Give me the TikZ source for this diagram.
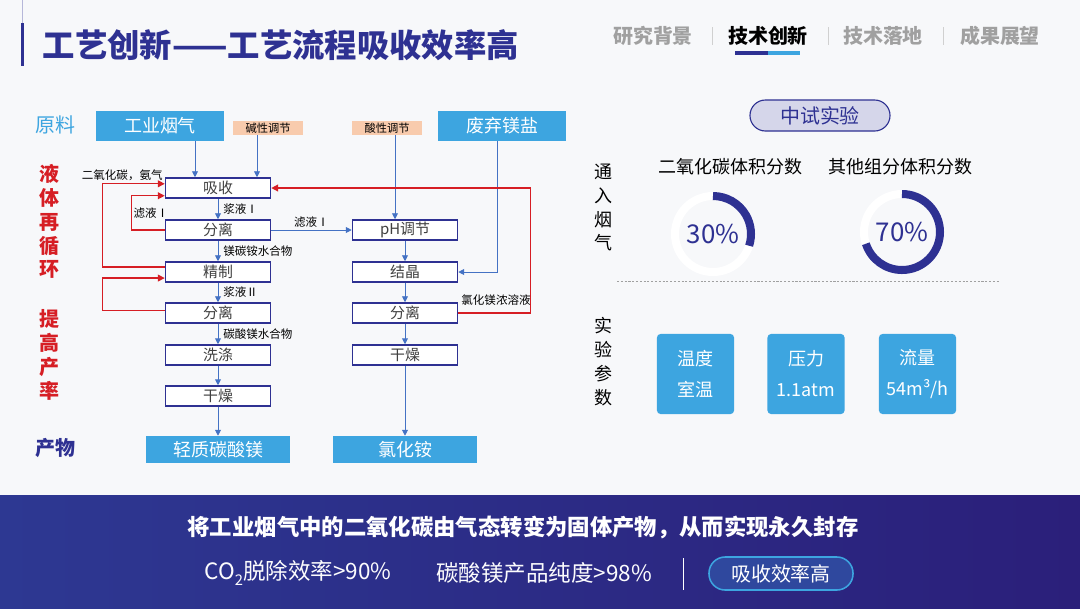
\documentclass[tikz,border=0pt]{standalone}
\usepackage{fontspec}
\setmainfont{Noto Sans CJK SC}
\usetikzlibrary{positioning,arrows.meta,calc}
\definecolor{cbg}{RGB}{247,248,250}
\definecolor{cnavy}{RGB}{46,49,146}
\definecolor{csky}{RGB}{61,165,224}
\definecolor{cpeach}{RGB}{248,203,173}
\definecolor{cflow}{RGB}{68,114,196}
\definecolor{cred}{RGB}{214,30,36}
\definecolor{cgray}{RGB}{160,160,160}
\definecolor{ctext}{RGB}{64,64,64}
\definecolor{cpill}{RGB}{213,214,234}
\definecolor{cbandl}{RGB}{45,56,146}
\definecolor{cbandr}{RGB}{43,31,122}
\tikzset{
  proc/.style={draw=cnavy, line width=1.1pt, fill=white, minimum width=2.625cm,
               minimum height=0.5cm, inner sep=0pt, text=ctext,
               font=\fontsize{10.6pt}{12pt}\selectfont},
  feed/.style={fill=csky, text=white, minimum width=3.2cm, minimum height=0.75cm,
               inner sep=0pt, font=\fontsize{12.8pt}{14pt}\selectfont},
  prod/.style={fill=csky, text=white, minimum width=3.6cm, minimum height=0.675cm,
               inner sep=0pt, font=\fontsize{12.8pt}{14pt}\selectfont},
  adj/.style={fill=cpeach, text=black, minimum width=1.75cm, minimum height=0.35cm,
              inner sep=0pt, font=\fontsize{8pt}{9pt}\selectfont},
  lab/.style={font=\fontsize{8.2pt}{10pt}\selectfont, text=black, inner sep=1.5pt},
  flow/.style={-{Triangle[length=4.2pt,width=4.2pt]}, draw=cflow, line width=0.6pt},
  loop/.style={-{Triangle[length=4.8pt,width=4.8pt]}, draw=cred, line width=0.9pt},
  vert/.style={align=center, font=\fontsize{14.2pt}{17pt}\selectfont\bfseries, text=cred},
  param/.style={fill=csky, rounded corners=2.5pt, minimum width=1.925cm, minimum height=2cm,
                inner sep=0pt, text=white, align=center, font=\fontsize{12.8pt}{22pt}\selectfont},
  ring/.style={draw=cnavy, line width=5.7pt},
}
\begin{document}
\begin{tikzpicture}[x=0.025cm, y=-0.025cm]
% page, frame of the slide and the dark band at the foot
\fill[cbg] (0,0) rectangle (1080,608);
\useasboundingbox (0,0) rectangle (1080,608);
\shade[left color=cbandl, right color=cbandr] (0,495) rectangle (1080,608);

% title with its side bar
\draw[cnavy!35, line width=0.6pt] (22,0) -- (22,23);
\fill[cnavy] (20.5,23) rectangle (24,66);
\node[anchor=west, text=cnavy, font=\fontsize{23pt}{26pt}\selectfont\bfseries] (title) at (38,45)
  {工艺创新——工艺流程吸收效率高};

% section tabs
\node[text=cgray, font=\fontsize{14.2pt}{16pt}\selectfont\bfseries] (tab1) at (653,36) {研究背景};
\node[text=black, font=\fontsize{14.2pt}{16pt}\selectfont\bfseries] (tab2) at (768,36) {技术创新};
\node[text=cgray, font=\fontsize{14.2pt}{16pt}\selectfont\bfseries] (tab3) at (883,36) {技术落地};
\node[text=cgray, font=\fontsize{14.2pt}{16pt}\selectfont\bfseries] (tab4) at (1000,36) {成果展望};
\foreach \sx in {712,828,943}
  \draw[cgray!50, line width=0.5pt] (\sx,27) -- (\sx,45);
\draw[cnavy, line width=2.2pt] (735,53) -- (768,53);
\draw[csky, line width=2.2pt] (768,53) -- (800,53);

% side captions of the flow sheet
\node[text=csky, font=\fontsize{14.2pt}{16pt}\selectfont] (raw) at (55,125) {原料};
\node[vert] (recyc) at (49,221.5) {液\\体\\再\\循\\环};
\node[vert] (yield) at (49,355) {提\\高\\产\\率};
\node[text=cnavy, font=\fontsize{14.2pt}{16pt}\selectfont\bfseries] (out) at (55,448) {产物};

% feeds
\node[feed] (gas) at (160,126) {工业烟气};
\node[feed] (salt) at (502,126) {废弃镁盐};
\node[adj] (base) at (268,128) {碱性调节};
\node[adj] (acid) at (387,128) {酸性调节};

% carbonate line
\node[proc] (abs) at (218,188) {吸收};
\node[proc] (sep1) at (218,230) {分离};
\node[proc] (ref) at (218,272) {精制};
\node[proc] (sep2) at (218,313) {分离};
\node[proc] (wash) at (218,355) {洗涤};
\node[proc] (dryL) at (218,396) {干燥};
\node[prod] (mgco) at (218,449.5) {轻质碳酸镁};

% chloride line
\node[proc] (ph) at (405,230) {pH调节};
\node[proc] (cry) at (405,272) {结晶};
\node[proc] (sepR) at (405,313) {分离};
\node[proc] (dryR) at (405,355) {干燥};
\node[prod] (nh4cl) at (405,449.5) {氯化铵};

% feeds going in
\coordinate (gx) at (195,0);
\coordinate (bx) at (257,0);
\coordinate (ax) at (395,0);
\coordinate (sx) at (497,0);
\draw[flow] (gas.south -| gx) -- (abs.north -| gx);
\draw[flow] (base.south -| bx) -- (abs.north -| bx);
\draw[flow] (acid.south -| ax) -- (ph.north -| ax);
\draw[flow] (salt.south -| sx) |- (cry.east);

% main steps
\draw[flow] (abs) -- node[lab, right=2pt] {浆液Ⅰ} (sep1);
\draw[flow] (sep1) -- node[lab, right=2pt] {镁碳铵水合物} (ref);
\draw[flow] (ref) -- node[lab, right=2pt] {浆液Ⅱ} (sep2);
\draw[flow] (sep2) -- node[lab, right=2pt] {碳酸镁水合物} (wash);
\draw[flow] (wash) -- (dryL);
\draw[flow] (dryL) -- (mgco);
\draw[flow] (sep1) -- node[lab, above] {滤液Ⅰ} (ph);
\draw[flow] (ph) -- (cry);
\draw[flow] (cry) -- (sepR);
\draw[flow] (sepR) -- (dryR);
\draw[flow] (dryR) -- (nh4cl);

% liquid recycled back
\draw[loop] ([yshift=3.5pt]ref.west) -- ++(-62,0) |- ([yshift=3pt]abs.west);
\draw[loop] (sep1.west) -- ++(-33,0) |- ([yshift=-5.5pt]abs.west);
\draw[loop] ([yshift=2pt]sep2.west) -- ++(-62,0) |- ([yshift=-4.3pt]ref.west);
\draw[loop] (sepR.east) -- ++(72,0) |- (abs.east);
\node[lab, anchor=east] (co2) at (165,175) {二氧化碳，氨气};
\node[lab] (filt) at (151,213) {滤液Ⅰ};
\node[lab] (brine) at (496,300) {氯化镁浓溶液};

% pilot test, feed gas
\node[draw=cnavy, fill=cpill, line width=0.8pt, rounded corners=11pt, minimum width=3.5cm,
      minimum height=0.775cm, text=cnavy, font=\fontsize{14.2pt}{16pt}\selectfont] (pilot)
  at (820,115.5) {中试实验};
\node[align=center, font=\fontsize{12.8pt}{17pt}\selectfont] (inlet) at (603,207.5) {通\\入\\烟\\气};
\node[font=\fontsize{12.8pt}{14pt}\selectfont] (h1) at (730,167) {二氧化碳体积分数};
\node[font=\fontsize{12.8pt}{14pt}\selectfont] (h2) at (900,167) {其他组分体积分数};
\coordinate (d1) at (713,234);
\coordinate (d2) at (902,232);
\draw[white, line width=5.7pt] (d1) circle (38);
\draw[white, line width=5.7pt] (d2) circle (38);
\draw[ring] (d1) ++(-90:38) arc (-90:18:38);
\draw[ring] (d2) ++(-90:38) arc (-90:162:38);
\node[text=cnavy, font=\fontsize{18.4pt}{20pt}\selectfont] (p1) at (d1) {30\%};
\node[text=cnavy, font=\fontsize{18.4pt}{20pt}\selectfont] (p2) at (d2) {70\%};
\draw[cgray, line width=0.4pt, dash pattern=on 1.5pt off 1.2pt] (617,281) -- (1000,281);

% pilot test, conditions
\node[align=center, font=\fontsize{12.8pt}{17pt}\selectfont] (cond) at (603,361.5) {实\\验\\参\\数};
\node[param] (temp) at (695.5,374) {温度\\室温};
\node[param] (pres) at (806,374) {压力\\1.1atm};
\node[param] (rate) at (917.5,374) {流量\\54m³/h};

% foot band
\node[text=white, font=\fontsize{15.9pt}{18pt}\selectfont\bfseries] (claim) at (523,527)
  {将工业烟气中的二氧化碳由气态转变为固体产物，从而实现永久封存};
\node[text=white!92!cpill, font=\fontsize{16pt}{18pt}\selectfont] (eff) at (298,573)
  {CO\raisebox{-0.45ex}{\fontsize{10.5pt}{11pt}\selectfont 2}脱除效率>90\%};
\node[text=white!92!cpill, font=\fontsize{16pt}{18pt}\selectfont] (pur) at (544,573) {碳酸镁产品纯度>98\%};
\draw[white!70, line width=0.5pt] (683,558) -- (683,590);
\node[draw=csky, line width=1.1pt, fill=cbandl!85!csky, rounded corners=11.5pt, minimum width=3.6cm,
      minimum height=0.825cm, text=white, font=\fontsize{14.2pt}{16pt}\selectfont] (tag) at (781,573.5) {吸收效率高};
\end{tikzpicture}
\end{document}
